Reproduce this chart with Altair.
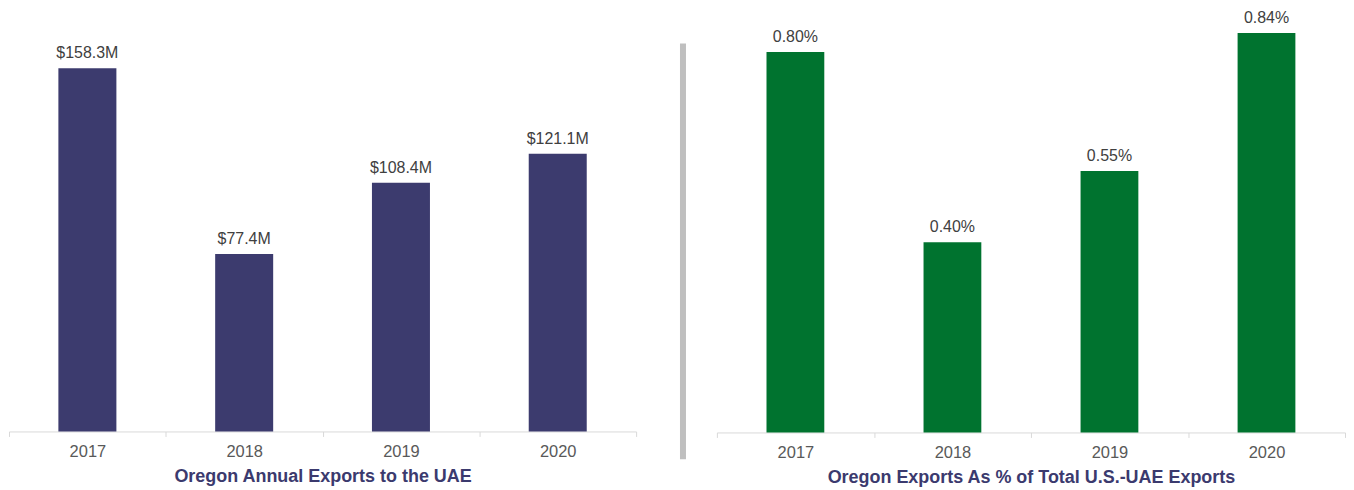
import altair as alt
import pandas as pd

years = ["2017", "2018", "2019", "2020"]
exports_musd = [158.3, 77.4, 108.4, 121.1]
export_labels = ["$158.3M", "$77.4M", "$108.4M", "$121.1M"]
share_pct = [0.80, 0.40, 0.55, 0.84]
share_labels = ["0.80%", "0.40%", "0.55%", "0.84%"]

left_df = pd.DataFrame({"year": years, "v": exports_musd, "lab": export_labels})
right_df = pd.DataFrame({"year": years, "v": share_pct, "lab": share_labels})

FONT = "Liberation Sans"

def panel(df, color, title, ymax, width, height, frac):
    x = alt.X("year:N", sort=years, title=title,
              scale=alt.Scale(paddingInner=0, paddingOuter=0),
              axis=alt.Axis(labelAngle=0, tickBand="extent", domainColor="#d9d9d9",
                            tickColor="#d9d9d9", tickSize=5, labelPadding=7,
                            labelFontSize=16.5, labelColor="#595959", labelFont=FONT,
                            titleFont=FONT, titleFontSize=18, titleFontWeight="bold",
                            titleColor="#3b3a6e", titlePadding=8))
    y = alt.Y("v:Q", scale=alt.Scale(domain=[0, ymax], nice=False), axis=None)
    base = alt.Chart(df).encode(x=x, y=y)
    bars = base.mark_bar(color=color, width=alt.RelativeBandSize(frac))
    text = base.mark_text(baseline="bottom", dy=-7, fontSize=16, font=FONT, color="#404040").encode(text="lab:N")
    return (bars + text).properties(width=width, height=height)

left = panel(left_df, "#3c3b6e", "Oregon Annual Exports to the UAE", 184.3, 629, 424, 0.37)
right = panel(right_df, "#00732f", "Oregon Exports As % of Total U.S.-UAE Exports", 0.891, 630, 425, 0.368)

sep = alt.Chart(pd.DataFrame({"a": [0]})).mark_rect(color="#bfbfbf").encode(
    x=alt.value(23), x2=alt.value(29), y=alt.value(35), y2=alt.value(452)
).properties(width=39, height=424)

chart = alt.hconcat(left, sep, right, spacing=20).configure_view(stroke=None).properties(padding=0)

chart.save("out.html", embed_options={"renderer": "svg", "actions": False})
